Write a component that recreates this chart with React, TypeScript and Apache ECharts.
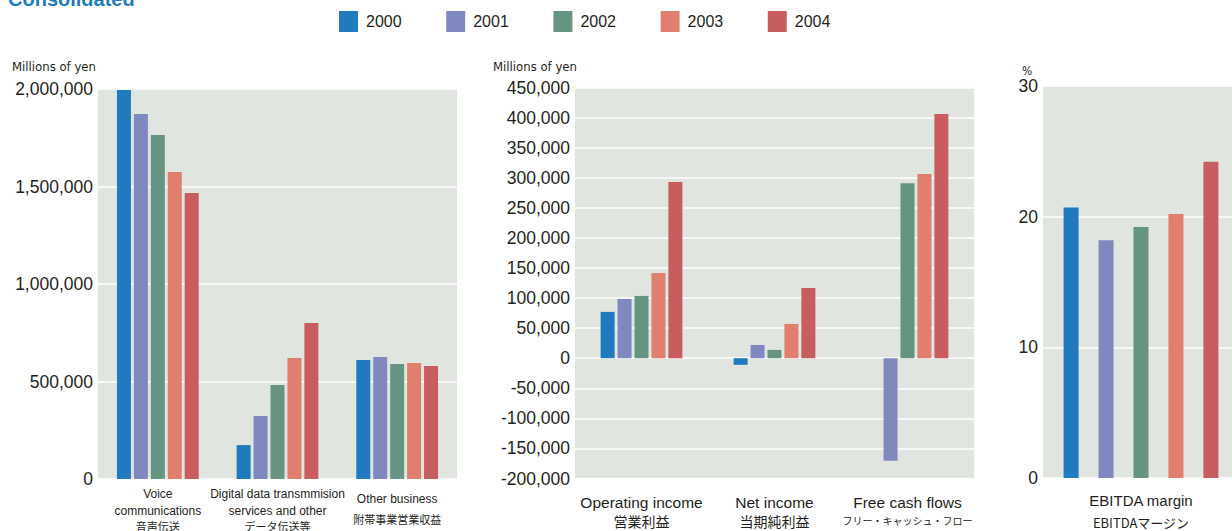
import React, { useEffect, useRef } from "react";
import * as echarts from "echarts";

const years = ["2000", "2001", "2002", "2003", "2004"];
const yearColors = ["#1f7bbd", "#7f88bf", "#659580", "#e07f6e", "#c85c5e"];

const revenueCategories = [
  "Voice\ncommunications\n音声伝送",
  "Digital data transmmision\nservices and other\nデータ伝送等",
  "Other business\n附帯事業営業収益",
];
// index = year (2000..2004), values per revenue category
const revenueValues = [
  [1995000, 174000, 610000],
  [1872000, 323000, 626000],
  [1764000, 482000, 590000],
  [1574000, 620000, 595000],
  [1467000, 800000, 580000],
];
const revenueTicks = [0, 500000, 1000000, 1500000, 2000000];

const incomeCategories = [
  "Operating income\n営業利益",
  "Net income\n当期純利益",
  "Free cash flows\nフリー・キャッシュ・フロー",
];
const incomeValues = [
  [77000, -11000, null],
  [98500, 22000, -170600],
  [103500, 13800, 291000],
  [141700, 57000, 306000],
  [292800, 116800, 405800],
];
const incomeTicks = [-200000, 450000, 50000]; // min, max, interval

const marginCategories = ["EBITDA margin\nEBITDAマージン"];
const marginValues = [[20.7], [18.2], [19.2], [20.2], [24.2]];
const marginTicks = [0, 30, 10];

const NUM_FONT = "'Liberation Sans', Arial, sans-serif";
const COND_FONT = "'DejaVu Sans Condensed', 'Liberation Sans', sans-serif";
const JP_FONT = "'Noto Sans CJK JP', sans-serif";
const TEXT = "#231f20";
const BG = "#e1e5e0";

function catFormatter(v: string) {
  const lines = v.split("\n");
  const jp = lines.pop() as string;
  const jpStyle = jp.length > 10 ? "jps" : "jp";
  if (lines.length === 1) return `{en2|${lines[0]}}\n{${jpStyle}|${jp}}`;
  return lines.map((l) => `{en|${l}}`).join("\n") + `\n{${jpStyle}|${jp}}`;
}

function makeRich(enSize: number, enLH: number, en2LH: number, jpSize: number, jpLH: number) {
  return {
    en: { fontFamily: NUM_FONT, fontSize: enSize, lineHeight: enLH, color: TEXT },
    en2: { fontFamily: NUM_FONT, fontSize: enSize, lineHeight: en2LH, color: TEXT },
    jp: { fontFamily: JP_FONT, fontSize: jpSize, lineHeight: jpLH, color: TEXT },
    jps: { fontFamily: JP_FONT, fontSize: Math.min(jpSize, 10), lineHeight: jpLH, color: TEXT },
  };
}

export default function App() {
  const ref = useRef<HTMLDivElement>(null);
  useEffect(() => {
    if (!ref.current) return;
    const chart = echarts.init(ref.current, undefined, { renderer: "svg" });
    const fmt = (v: number) => v.toLocaleString("en-US");
    const splitLine = { show: true, lineStyle: { color: "#ffffff", width: 1.5 } };
    const yLabel = { fontFamily: NUM_FONT, fontSize: 17.5, color: TEXT, margin: 5 };

    const series: any[] = [];
    years.forEach((y, i) => {
      series.push({
        type: "bar",
        name: y,
        xAxisIndex: 0,
        yAxisIndex: 0,
        data: revenueValues[i],
        barWidth: 14,
        barGap: "21%",
        itemStyle: { color: yearColors[i] },
      });
      series.push({
        type: "bar",
        name: y,
        xAxisIndex: 1,
        yAxisIndex: 1,
        data: incomeValues[i],
        barWidth: 14,
        barGap: "21%",
        itemStyle: { color: yearColors[i] },
      });
      series.push({
        type: "bar",
        name: y,
        xAxisIndex: 2,
        yAxisIndex: 2,
        data: marginValues[i],
        barWidth: 15,
        barGap: "133%",
        itemStyle: { color: yearColors[i] },
      });
    });

    const gridBase = { show: true, backgroundColor: BG, borderWidth: 0, outerBoundsMode: "none" };

    chart.setOption({
      animation: false,
      color: yearColors,
      legend: {
        data: years,
        left: 339,
        top: 11,
        padding: 0,
        itemWidth: 19,
        itemHeight: 21,
        itemGap: 44.6,
        icon: "rect",
        textStyle: { fontFamily: NUM_FONT, fontSize: 16, color: TEXT, padding: [0, 0, 0, 3] },
      },
      grid: [
        { ...gridBase, left: 98, top: 89, width: 359, height: 390 },
        { ...gridBase, left: 575, top: 87.5, width: 399, height: 391 },
        { ...gridBase, left: 1043, top: 86, width: 196, height: 392 },
      ],
      xAxis: [
        {
          gridIndex: 0,
          type: "category",
          data: revenueCategories,
          axisLine: { show: false },
          axisTick: { show: false },
          axisLabel: { interval: 0, margin: 7, formatter: catFormatter, rich: makeRich(12, 16.5, 26, 11, 14) },
        },
        {
          gridIndex: 1,
          type: "category",
          data: incomeCategories,
          axisLine: { show: false },
          axisTick: { show: false },
          axisLabel: { interval: 0, margin: 15, formatter: catFormatter, rich: makeRich(15.5, 18, 18, 14, 18) },
        },
        {
          gridIndex: 2,
          type: "category",
          data: marginCategories,
          axisLine: { show: false },
          axisTick: { show: false },
          axisLabel: { interval: 0, margin: 12, formatter: catFormatter, rich: makeRich(15, 20, 20, 13, 24) },
        },
      ],
      yAxis: [
        {
          gridIndex: 0,
          type: "value",
          min: revenueTicks[0],
          max: revenueTicks[revenueTicks.length - 1],
          interval: revenueTicks[1] - revenueTicks[0],
          axisLine: { show: false },
          axisTick: { show: false },
          splitLine,
          axisLabel: { ...yLabel, formatter: fmt },
        },
        {
          gridIndex: 1,
          type: "value",
          min: incomeTicks[0],
          max: incomeTicks[1],
          interval: incomeTicks[2],
          axisLine: { show: false },
          axisTick: { show: false },
          splitLine,
          axisLabel: { ...yLabel, formatter: fmt },
        },
        {
          gridIndex: 2,
          type: "value",
          min: marginTicks[0],
          max: marginTicks[1],
          interval: marginTicks[2],
          axisLine: { show: false },
          axisTick: { show: false },
          splitLine,
          axisLabel: { ...yLabel },
        },
      ],
      graphic: [
        {
          type: "text",
          left: 8,
          top: -11,
          style: {
            text: "Consolidated",
            fontFamily: NUM_FONT,
            fontWeight: "bold",
            fontSize: 20,
            fill: "#1f7bbd",
          },
        },
        {
          type: "text",
          left: 12,
          top: 60,
          style: { text: "Millions of yen", fontFamily: COND_FONT, fontSize: 13, fill: TEXT },
        },
        {
          type: "text",
          left: 493,
          top: 60,
          style: { text: "Millions of yen", fontFamily: COND_FONT, fontSize: 13, fill: TEXT },
        },
        {
          type: "text",
          left: 1022,
          top: 65,
          style: { text: "%", fontFamily: COND_FONT, fontSize: 12, fill: TEXT },
        },
      ],
      series,
    });
    return () => chart.dispose();
  }, []);
  return (
    <div
      ref={ref}
      style={{ position: "absolute", left: 0, top: 0, width: 1232, height: 531 }}
    />
  );
}
